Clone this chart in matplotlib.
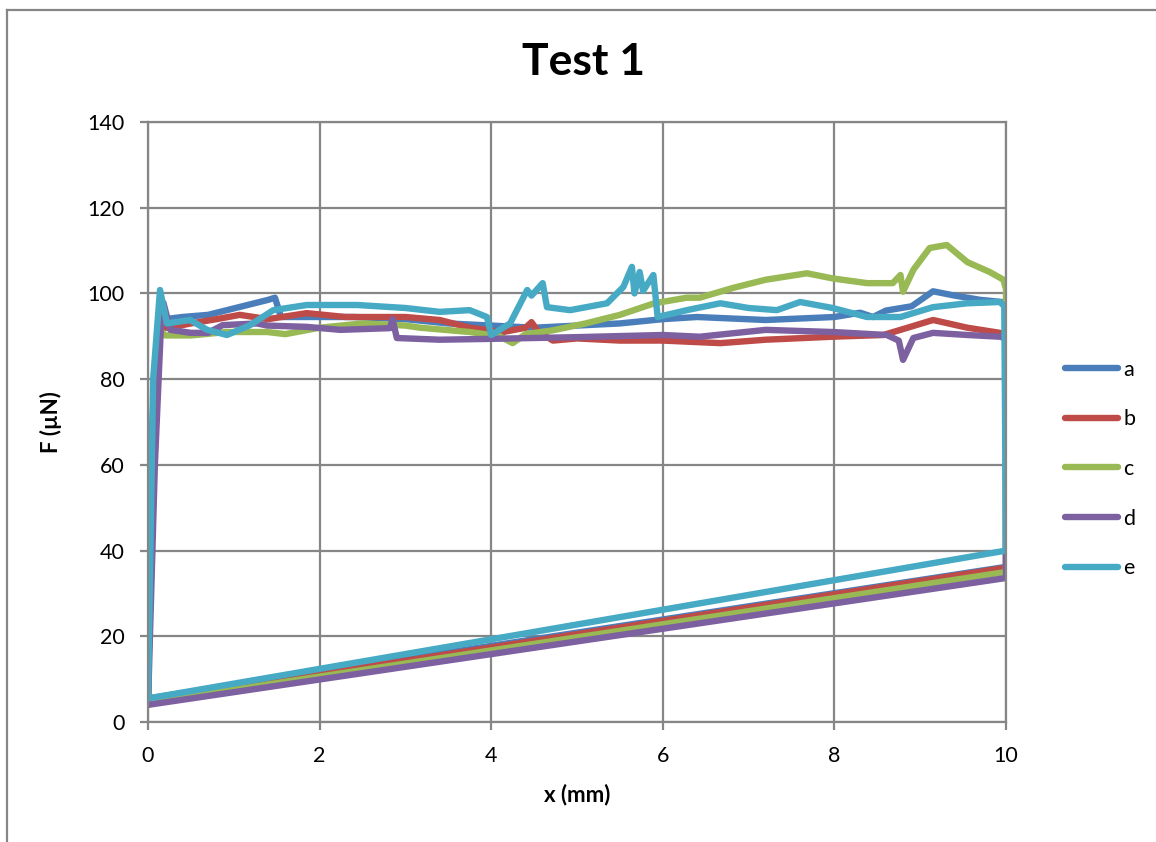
import matplotlib
matplotlib.use("Agg")
import matplotlib.pyplot as plt
from matplotlib.lines import Line2D

plt.rcParams['font.family'] = ['Lato', 'DejaVu Sans']

# each series is one loop: rise at x=0, plateau, drop at x=10, straight return to x=0
a_x = [0, 0.05, 0.12, 0.2, 0.4, 0.7, 1.0, 1.2, 1.4, 1.48, 1.55, 1.9, 2.4, 3.0, 3.5, 4.0,
       4.5, 5.0, 5.5, 6.0, 6.4, 7.2, 8.0, 8.3, 8.45, 8.6, 8.9, 9.15, 9.4, 9.7, 9.95,
       10, 10, 0]
a_f = [5.5, 70, 93, 94, 94.5, 95, 96.5, 97.5, 98.5, 99, 94.5, 94.5, 94.5, 94, 93, 92.5,
       92, 92.5, 93, 94, 94.5, 93.8, 94.5, 95.5, 94.5, 96, 97, 100.5, 99.5, 98.5, 98,
       97, 36.2, 5.5]

b_x = [0, 0.05, 0.12, 0.25, 0.5, 0.8, 1.07, 1.4, 1.85, 2.3, 2.7, 3.0, 3.4, 3.75, 4.14,
       4.4, 4.47, 4.55, 4.72, 5.0, 5.5, 6.0, 6.67, 7.2, 7.98, 8.57, 8.77, 9.15, 9.55,
       9.93, 10, 10, 0]
b_f = [5, 65, 92, 92, 93, 94, 95, 94, 95.4, 94.5, 94.5, 94.5, 93.8, 92, 91,
       92, 93.3, 91, 89, 89.5, 89, 89, 88.4, 89.2, 89.9, 90.3, 91.5, 93.8, 92,
       90.8, 90.5, 36, 5]

c_x = [0, 0.05, 0.12, 0.2, 0.5, 0.92, 1.39, 1.6, 2.0, 2.5, 3.0, 3.17, 3.75, 4.1, 4.25,
       4.4, 4.72, 5.1, 5.5, 5.9, 6.28, 6.43, 6.82, 7.2, 7.68, 7.98, 8.38, 8.68, 8.77,
       8.8, 8.92, 9.11, 9.31, 9.55, 9.81, 9.97, 10, 10, 0]
c_f = [4.5, 60, 92, 90.2, 90.2, 91, 91, 90.5, 92, 93, 92.5, 92, 91, 90, 88.4,
       90.5, 91.4, 93, 95, 97.7, 99, 99, 101.3, 103.2, 104.7, 103.5, 102.4, 102.4, 104.3,
       100.4, 105.5, 110.6, 111.3, 107.3, 105, 103.2, 101, 35, 4.5]

d_x = [0, 0.08, 0.15, 0.18, 0.26, 0.5, 0.7, 0.87, 1.27, 1.39, 1.85, 2.24, 2.82, 2.85,
       2.9, 3.4, 4.0, 5.0, 6.0, 6.43, 7.2, 7.98, 8.61, 8.75, 8.8, 8.92, 9.15, 9.55, 9.93,
       10, 10, 0]
d_f = [4, 60, 92, 97.8, 91.5, 90.8, 90.8, 92.6, 93, 92.5, 92.2, 91.5, 91.9, 94,
       89.6, 89.2, 89.4, 89.8, 90.3, 89.9, 91.5, 91, 90.3, 89, 84.5, 89.6, 90.8, 90.3, 89.9,
       89.5, 33.6, 4]

e_x = [0, 0.06, 0.14, 0.22, 0.49, 0.69, 0.92, 1.19, 1.46, 1.85, 2.44, 3.0, 3.4, 3.75,
       3.95, 4.0, 4.22, 4.42, 4.47, 4.6, 4.65, 4.92, 5.35, 5.54, 5.64, 5.67, 5.73, 5.77,
       5.89, 5.94, 6.28, 6.67, 7.0, 7.33, 7.6, 7.98, 8.38, 8.77, 9.15, 9.55, 9.93, 9.98,
       10, 0]
e_f = [5.5, 80, 100.8, 93, 93.8, 91.5, 90.3, 92.6, 96.1, 97.3, 97.3, 96.6, 95.7, 96.1,
       94.5, 90.3, 93, 100.8, 99.5, 102.4, 96.8, 96.1, 97.7, 101.5, 106.2, 100, 105, 100.6,
       104.3, 94.5, 96.1, 97.7, 96.6, 96.1, 98, 96.6, 94.5, 94.5, 96.8, 97.7, 98, 97,
       40, 5.5]

series = [
    ("a", a_x, a_f, "#4A7EBB"),
    ("b", b_x, b_f, "#BE4B48"),
    ("c", c_x, c_f, "#98B954"),
    ("d", d_x, d_f, "#7D60A0"),
    ("e", e_x, e_f, "#46AAC5"),
]

W, H = 1156, 842
fig = plt.figure(figsize=(W / 100, H / 100), dpi=100)
ax = fig.add_axes([148 / W, 1 - 722 / H, (1006 - 148) / W, (722 - 122) / H])

for name, x, f, col in series:
    ax.plot(x, f, color=col, lw=4.6, label=name, solid_joinstyle="round",
            solid_capstyle="round")

grey = "#868686"
ax.set_xlim(0, 10)
ax.set_ylim(0, 140)
ax.set_xticks(range(0, 11, 2))
ax.set_yticks(range(0, 141, 20))
ax.grid(True, color=grey, lw=1.6)
ax.set_axisbelow(True)
for s in ax.spines.values():
    s.set_color(grey)
    s.set_linewidth(1.6)
ax.tick_params(direction="out", length=6, width=1.6, color=grey, labelsize=15.5,
               pad=11)

ax.set_xlabel("x (mm)", fontsize=16, fontweight="bold", labelpad=13)
ax.set_ylabel("F (µN)", fontsize=16, fontweight="bold", labelpad=18)
fig.text(583 / W, 1 - 62 / H, "Test 1", fontsize=32, fontweight="bold",
         ha="center", va="center")

leg = ax.legend(loc="center left", bbox_to_anchor=(1046 / W, 1 - 469 / H),
                bbox_transform=fig.transFigure, frameon=False, fontsize=15.5,
                handlelength=2.45, handletextpad=0.25, labelspacing=1.38)
for h in leg.legend_handles:
    h.set_linewidth(4.6)

# outer chart frame (partly cropped in the reference)
fig.add_artist(Line2D([7 / W, 7 / W], [0, 1 - 10 / H], color=grey, lw=1.6,
                      transform=fig.transFigure))
fig.add_artist(Line2D([7 / W, 1], [1 - 10 / H, 1 - 10 / H], color=grey, lw=1.6,
                      transform=fig.transFigure))

fig.savefig("out.png", dpi=100)
